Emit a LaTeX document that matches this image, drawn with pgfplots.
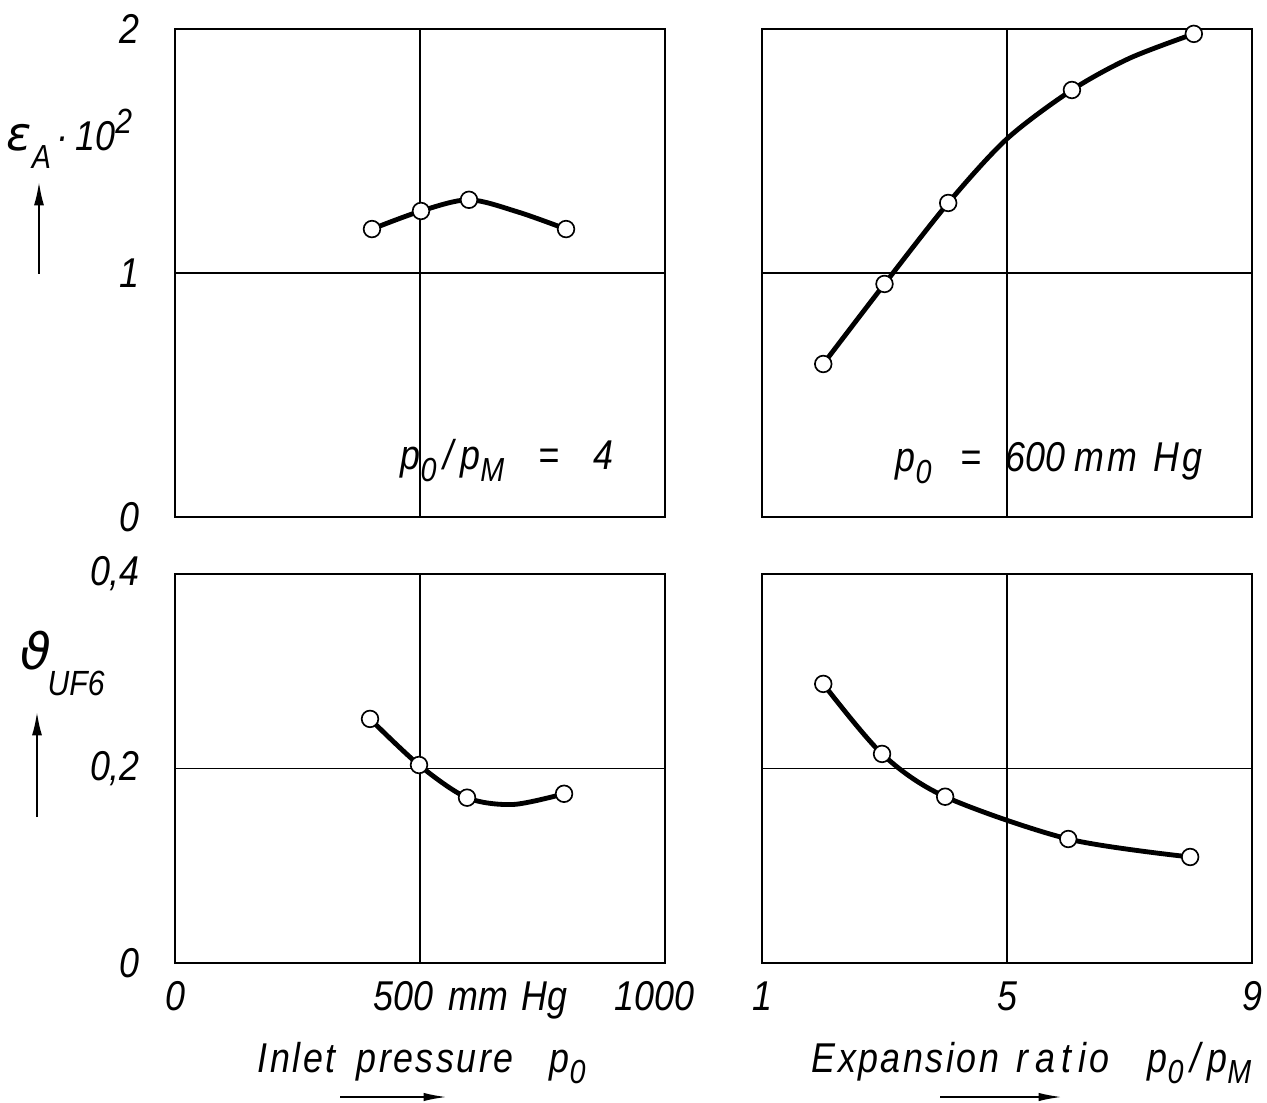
\documentclass[border=0pt]{standalone}
\usepackage{fontspec}
\setmainfont{Liberation Sans}[FakeStretch=0.86]
\newfontfamily\lsp{Liberation Sans}[FakeStretch=0.86, LetterSpace=6]
\newfontfamily\grk{DejaVu Sans}
\usepackage{pgfplots}
\pgfplotsset{compat=1.18}
\usetikzlibrary{arrows.meta}

\newcommand{\lbl}{\fontsize{12.5}{15}\selectfont\itshape}
\newcommand{\sub}[2][-0.5ex]{\raisebox{#1}{\fontsize{10}{12}\selectfont #2}}
\newcommand{\supr}[1]{\raisebox{0.8ex}{\fontsize{10.5}{12}\selectfont #1}}

\pgfplotsset{
  panel/.style={
    scale only axis,
    width=147pt,
    axis line style={line width=0.6pt},
    grid=major,
    major grid style={line width=0.35pt, black},
    major tick length=0pt,
    tick label style={font=\lbl},
    /pgf/number format/assume math mode=true,
    yticklabel style={xshift=-7pt},
    xticklabel style={yshift=-2pt},
    clip=false,
  },
  curve/.style={line width=1.45pt, black, smooth, mark=none},
  pts/.style={only marks, mark=*, mark size=2.5pt,
    mark options={fill=white, draw=black, line width=0.5pt}},
}

\begin{document}
\begin{tikzpicture}
\useasboundingbox (0pt,0pt) rectangle (380.1pt,-330.9pt);

% top left: eps_A vs inlet pressure
\begin{axis}[panel, at={(52.5pt,-8.7pt)}, anchor=north west, height=146.4pt,
  xmin=0, xmax=1000, ymin=0, ymax=2,
  xtick={0,500,1000}, xticklabels={,,},
  ytick={0,1,2}, yticklabels={0,1,2}]
  \addplot[curve] coordinates {(402,1.18) (502,1.254) (600,1.30) (700,1.25) (798,1.18)};
  \addplot[pts] coordinates {(402,1.18) (502,1.254) (600,1.30) (798,1.18)};
\end{axis}

% top right: eps_A vs expansion ratio
\begin{axis}[panel, at={(228.6pt,-8.7pt)}, anchor=north west, height=146.4pt,
  xmin=1, xmax=9, ymin=0, ymax=2,
  xtick={1,5,9}, xticklabels={,,},
  ytick={0,1,2}, yticklabels={,,}]
  \addplot[curve] coordinates {(2.0,0.627) (3.0,0.955) (4.04,1.287) (5.0,1.55) (6.06,1.75) (7.0,1.88) (8.05,1.98)};
  \addplot[pts] coordinates {(2.0,0.627) (3.0,0.955) (4.04,1.287) (6.06,1.75) (8.05,1.98)};
\end{axis}

% bottom left: theta_UF6 vs inlet pressure
\begin{axis}[panel, at={(52.5pt,-172.2pt)}, anchor=north west, height=116.7pt,
  xmin=0, xmax=1000, ymin=0, ymax=0.4,
  xtick={0,500,1000}, xticklabels={0,,},
  ytick={0,0.2,0.4}, yticklabels={0,{0,2},{0,4}}]
  \addplot[curve] coordinates {(398,0.251) (498,0.2036) (596,0.170) (690,0.163) (794,0.174)};
  \addplot[pts] coordinates {(398,0.251) (498,0.2036) (596,0.170) (794,0.174)};
\end{axis}

% bottom right: theta_UF6 vs expansion ratio
\begin{axis}[panel, at={(228.6pt,-172.2pt)}, anchor=north west, height=116.7pt,
  xmin=1, xmax=9, ymin=0, ymax=0.4,
  xtick={1,5,9}, xticklabels={1,5,9},
  ytick={0,0.2,0.4}, yticklabels={,,}]
  \addplot[curve] coordinates {(2.0,0.287) (2.96,0.215) (3.99,0.171) (6.0,0.1275) (7.99,0.109)};
  \addplot[pts] coordinates {(2.0,0.287) (2.96,0.215) (3.99,0.171) (6.0,0.1275) (7.99,0.109)};
\end{axis}

% labels and arrows, in pixel units of the reference
\begin{scope}[x=0.3pt, y=-0.3pt, font=\lbl, every node/.style={inner sep=0}]
  % y labels
  \node[anchor=base west] at (6,151) {{\grk\itshape\fontsize{14}{16}\selectfont ε}\sub[-0.8ex]{A}};
  \node[anchor=base west] at (56,151) {·\,10\supr{2}};
  \draw[line width=0.6pt, -{Latex[length=7pt,width=3pt]}] (39,274) -- (39,182);
  \node[anchor=base west] at (20,669) {{\grk\itshape\fontsize{15}{18}\selectfont ϑ}};
  \node[anchor=base west] at (47,695) {\fontsize{10.5}{12}\selectfont UF6};
  \draw[line width=0.6pt, -{Latex[length=7pt,width=3pt]}] (37,817) -- (37,712);

  % x tick labels of the left panel
  \node[anchor=base west] at (373,1010) {500};
  \node[anchor=base west] at (448,1010) {mm};
  \node[anchor=base west] at (521,1010) {Hg};
  \node[anchor=base west] at (614,1010) {1000};

  % x axis titles
  \node[anchor=base west] at (257,1072) {\lsp Inlet};
  \node[anchor=base west] at (356,1072) {\lsp pressure};
  \node[anchor=base west] at (549,1072) {p\sub{0}};
  \draw[line width=0.6pt, -{Latex[length=7pt,width=2.5pt]}] (340,1097) -- (447,1097);
  \node[anchor=base west] at (811,1072) {\lsp Expansion};
  \node[anchor=base west] at (1016,1072) {\lsp r\hspace{2pt}a\hspace{2pt}t\hspace{2pt}i\hspace{1pt}o};
  \node[anchor=base west] at (1147,1072) {p\sub{0}\,/\,p\sub{M}};
  \draw[line width=0.6pt, -{Latex[length=7pt,width=2.5pt]}] (940,1097) -- (1062,1097);

  % panel notes
  \node[anchor=base west] at (400,470) {p\sub{0}\,/\,p\sub{M}};
  \node[anchor=base west] at (538,470) {=};
  \node[anchor=base west] at (593,470) {4};
  \node[anchor=base west] at (895,472) {p\sub{0}};
  \node[anchor=base west] at (960,472) {=};
  \node[anchor=base west] at (1005,472) {600};
  \node[anchor=base west] at (1074,472) {\lsp mm};
  \node[anchor=base west] at (1153,472) {\lsp Hg};
\end{scope}
\end{tikzpicture}
\end{document}
